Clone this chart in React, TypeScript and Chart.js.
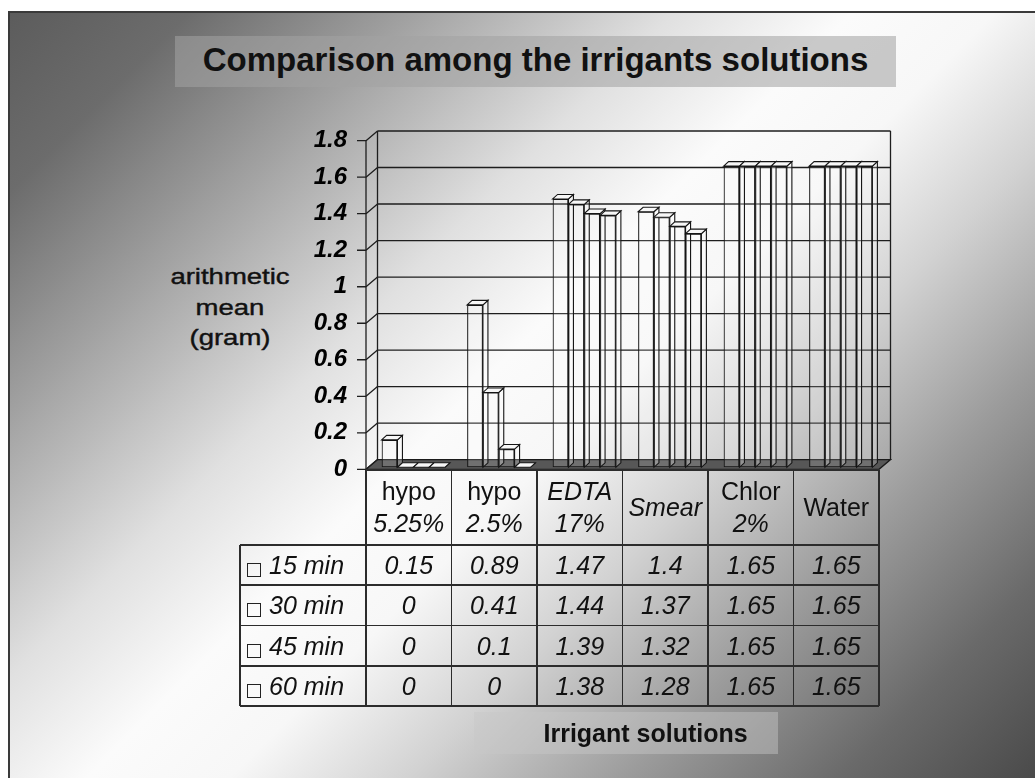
import React, { useEffect, useRef } from "react";
import { Chart, registerables } from "chart.js";

Chart.register(...registerables);

// ---------- data ----------
const CATEGORIES = ["hypo 5.25%", "hypo 2.5%", "EDTA 17%", "Smear", "Chlor 2%", "Water"];
const SERIES_LABELS = ["15 min", "30 min", "45 min", "60 min"];
const MIN15 = [0.15, 0.89, 1.47, 1.4, 1.65, 1.65];
const MIN30 = [0, 0.41, 1.44, 1.37, 1.65, 1.65];
const MIN45 = [0, 0.1, 1.39, 1.32, 1.65, 1.65];
const MIN60 = [0, 0, 1.38, 1.28, 1.65, 1.65];
const SERIES = [MIN15, MIN30, MIN45, MIN60];
const Y_MIN = 0;
const Y_MAX = 1.8;
const Y_STEP = 0.2;
const TITLE = "Comparison among the irrigants solutions";
const Y_TITLE = ["arithmetic", "mean", "(gram)"];
const X_TITLE = "Irrigant solutions";

// ---------- layout ----------
const W = 1035;
const H = 778;
const PLOT_L = 366;
const PLOT_R = 879;
const PLOT_T = 140.7;
const PLOT_B = 469.3;
const AXIS_W = 60;
const WALL_DX = 11.5;
const WALL_DY = -9.7;
const BAR_SHIFT_X = 4.5;
const BAR_SHIFT_Y = -2;
const BAR_DX = 5;
const BAR_DY = -4.5;
const FONT = "'Liberation Sans', Arial, Helvetica, sans-serif";
const LINE = "#2c2c2c";

const TABLE_LEFT = 240;
const HEAD_TOP = 470;
const HEAD_BOTTOM = 545;
const TABLE_BOTTOM = 706;
const COL_W = (PLOT_R - PLOT_L) / CATEGORIES.length;
const ROW_H = (TABLE_BOTTOM - HEAD_BOTTOM) / SERIES.length;
const ITALIC_WORDS = new Set(["EDTA", "Smear"]);

const threeD = {
  id: "threeD",
  beforeDatasetsDraw(chart: any) {
    const { ctx, chartArea: a, scales } = chart;
    const y = scales.y;
    ctx.save();
    // floor
    ctx.beginPath();
    ctx.moveTo(a.left, a.bottom);
    ctx.lineTo(a.right, a.bottom);
    ctx.lineTo(a.right + WALL_DX, a.bottom + WALL_DY);
    ctx.lineTo(a.left + WALL_DX, a.bottom + WALL_DY);
    ctx.closePath();
    ctx.fillStyle = "#575757";
    ctx.fill();
    ctx.strokeStyle = "#1a1a1a";
    ctx.lineWidth = 1.3;
    ctx.stroke();

    ctx.strokeStyle = "#1e1e1e";
    ctx.lineWidth = 1.3;
    const ticks = y.ticks.map((t: any) => t.value);
    ticks.forEach((v: number) => {
      const yp = y.getPixelForValue(v);
      ctx.beginPath();
      if (v > Y_MIN) {
        ctx.moveTo(a.left + WALL_DX, yp + WALL_DY);
        ctx.lineTo(a.right + WALL_DX, yp + WALL_DY);
      }
      ctx.moveTo(a.left, yp);
      ctx.lineTo(a.left + WALL_DX, yp + WALL_DY);
      ctx.moveTo(a.left - 9, yp);
      ctx.lineTo(a.left, yp);
      ctx.stroke();
    });
    // back wall verticals + front axis
    ctx.beginPath();
    ctx.moveTo(a.left + WALL_DX, a.top + WALL_DY);
    ctx.lineTo(a.left + WALL_DX, a.bottom + WALL_DY);
    ctx.moveTo(a.right + WALL_DX, a.top + WALL_DY);
    ctx.lineTo(a.right + WALL_DX, a.bottom + WALL_DY);
    ctx.moveTo(a.left, a.top);
    ctx.lineTo(a.left, a.bottom);
    ctx.stroke();
    ctx.restore();

    ctx.save();
    ctx.translate(BAR_SHIFT_X, BAR_SHIFT_Y);
  },
  afterDatasetsDraw(chart: any) {
    const { ctx } = chart;
    chart.data.datasets.forEach((_: any, i: number) => {
      const meta = chart.getDatasetMeta(i);
      meta.data.forEach((bar: any) => {
        const { x, y, base, width } = bar.getProps(["x", "y", "base", "width"], true);
        const x0 = x - width / 2;
        const x1 = x + width / 2;
        ctx.lineWidth = 1.1;
        ctx.strokeStyle = "#151515";
        // side face
        ctx.beginPath();
        ctx.moveTo(x1, y);
        ctx.lineTo(x1 + BAR_DX, y + BAR_DY);
        ctx.lineTo(x1 + BAR_DX, base + BAR_DY);
        ctx.lineTo(x1, base);
        ctx.closePath();
        ctx.fillStyle = "rgba(255,255,255,0.25)";
        ctx.fill();
        ctx.stroke();
        // top face
        ctx.beginPath();
        ctx.moveTo(x0, y);
        ctx.lineTo(x1, y);
        ctx.lineTo(x1 + BAR_DX, y + BAR_DY);
        ctx.lineTo(x0 + BAR_DX, y + BAR_DY);
        ctx.closePath();
        ctx.fillStyle = "#f7f7f7";
        ctx.fill();
        ctx.stroke();
      });
    });
    ctx.restore();
  },
};

export default function App() {
  const ref = useRef<HTMLCanvasElement>(null);

  useEffect(() => {
    const canvas = ref.current;
    if (!canvas) return;
    const chart = new Chart(canvas, {
      type: "bar",
      data: {
        labels: CATEGORIES,
        datasets: SERIES.map((d, i) => ({
          label: SERIES_LABELS[i],
          data: d,
          backgroundColor: "rgba(255,255,255,0.15)",
          borderColor: "#151515",
          borderWidth: 1.1,
          borderSkipped: false,
          barPercentage: 1,
          categoryPercentage: 0.74,
          clip: false,
        })),
      },
      options: {
        responsive: false,
        animation: false,
        layout: {
          padding: { left: PLOT_L - AXIS_W, right: W - PLOT_R, top: PLOT_T, bottom: H - PLOT_B },
        },
        plugins: {
          legend: { display: false },
          tooltip: { enabled: false },
          title: { display: false },
        },
        scales: {
          x: { display: false, offset: true, grid: { display: false } },
          y: {
            min: Y_MIN,
            max: Y_MAX,
            position: "left",
            afterFit: (s: any) => {
              s.width = AXIS_W;
            },
            grid: { display: false, drawTicks: false },
            border: { display: false },
            ticks: {
              stepSize: Y_STEP,
              padding: 19,
              color: "#000",
              font: { family: FONT, size: 24, weight: "bold", style: "italic" },
              callback: (v: any) => String(Math.round(Number(v) * 10) / 10),
            },
          },
        },
      } as any,
      plugins: [threeD],
    });
    return () => chart.destroy();
  }, []);

  const abs = (s: React.CSSProperties): React.CSSProperties => ({ position: "absolute", ...s });
  const hLine = (y: number, x0: number, x1: number, key: string) => (
    <div key={key} style={abs({ left: x0, top: y - 0.8, width: x1 - x0, height: 1.6, background: LINE })} />
  );
  const vLine = (x: number, y0: number, y1: number, key: string) => (
    <div key={key} style={abs({ left: x - 0.8, top: y0, width: 1.6, height: y1 - y0, background: LINE })} />
  );

  const lines: React.ReactNode[] = [];
  for (let i = 0; i <= CATEGORIES.length; i++) {
    lines.push(vLine(PLOT_L + i * COL_W, HEAD_TOP, TABLE_BOTTOM, "v" + i));
  }
  lines.push(vLine(TABLE_LEFT, HEAD_BOTTOM, TABLE_BOTTOM, "vl"));
  lines.push(hLine(HEAD_TOP, PLOT_L, PLOT_R, "hh"));
  for (let r = 0; r <= SERIES.length; r++) {
    lines.push(hLine(HEAD_BOTTOM + r * ROW_H, TABLE_LEFT, PLOT_R, "h" + r));
  }

  return (
    <div style={{ position: "fixed", left: 0, top: 0, width: W, height: H, overflow: "hidden", background: "#fff", fontFamily: FONT }}>
      <div
        style={abs({
          left: 8,
          top: 11,
          width: W - 8,
          height: H - 11,
          boxSizing: "border-box",
          borderTop: "2px solid #3a3a3a",
          borderLeft: "2px solid #3a3a3a",
          background:
            "linear-gradient(135deg, #5c5c5c 0%, #6c6c6c 10%, #a8a8a8 24%, #e0e0e0 37%, #fbfbfb 47%, #f7f7f7 55%, #d2d2d2 65%, #9c9c9c 77%, #6a6a6a 89%, #4a4a4a 100%)",
        })}
      />
      {/* title */}
      <div style={abs({ left: 175, top: 36, width: 721, height: 51, background: "rgba(163,163,163,0.56)" })} />
      <div style={abs({ left: 175, top: 36, width: 721, height: 48, lineHeight: "48px", textAlign: "center", fontWeight: "bold", fontSize: 33, color: "#111", whiteSpace: "nowrap" })}>
        {TITLE}
      </div>
      {/* y title */}
      <div style={abs({ left: 150, top: 262, width: 160, textAlign: "center", fontSize: 22, lineHeight: "30.5px", color: "#111", transform: "scaleX(1.25)", WebkitTextStroke: "0.4px #111" })}>
        {Y_TITLE.map((t) => (
          <div key={t}>{t}</div>
        ))}
      </div>
      <canvas ref={ref} width={W} height={H} style={abs({ left: 0, top: 0, width: W, height: H })} />
      {/* table */}
      {lines}
      {CATEGORIES.map((c, i) => {
        const parts = c.split(" ");
        return (
          <div
            key={c}
            style={abs({
              left: PLOT_L + i * COL_W,
              top: HEAD_TOP,
              width: COL_W,
              height: HEAD_BOTTOM - HEAD_TOP,
              display: "flex",
              flexDirection: "column",
              justifyContent: "center",
              alignItems: "center",
              fontSize: 25,
              lineHeight: "31.7px",
              color: "#111",
            })}
          >
            {parts.map((p) => (
              <div key={p} style={{ fontStyle: /\d/.test(p) || ITALIC_WORDS.has(p) ? "italic" : "normal", whiteSpace: "nowrap" }}>
                {p}
              </div>
            ))}
          </div>
        );
      })}
      {SERIES.map((s, r) => {
        const top = HEAD_BOTTOM + r * ROW_H;
        return (
          <React.Fragment key={SERIES_LABELS[r]}>
            <div style={abs({ left: 247, top: top + 18, width: 14, height: 14, boxSizing: "border-box", border: "1.3px solid #222" })} />
            <div style={abs({ left: 269, top, height: ROW_H, lineHeight: ROW_H + "px", fontSize: 25, fontStyle: "italic", color: "#111", whiteSpace: "nowrap" })}>
              {SERIES_LABELS[r]}
            </div>
            {s.map((v, i) => (
              <div
                key={i}
                style={abs({
                  left: PLOT_L + i * COL_W,
                  top,
                  width: COL_W,
                  height: ROW_H,
                  lineHeight: ROW_H + "px",
                  textAlign: "center",
                  fontSize: 25,
                  fontStyle: "italic",
                  color: "#111",
                })}
              >
                {String(v)}
              </div>
            ))}
          </React.Fragment>
        );
      })}
      {/* x title */}
      <div style={abs({ left: 474, top: 712, width: 304, height: 42, background: "rgba(200,200,200,0.45)" })} />
      <div style={abs({ left: 543.5, top: 712, width: 200, height: 42, lineHeight: "42px", textAlign: "center", fontSize: 25, fontWeight: "bold", color: "#111", whiteSpace: "nowrap" })}>
        {X_TITLE}
      </div>
    </div>
  );
}
